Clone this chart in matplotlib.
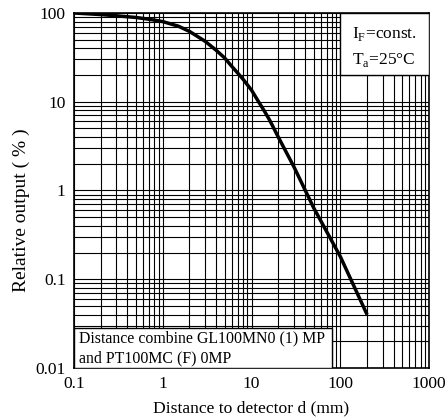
import matplotlib
matplotlib.use("Agg")
import matplotlib.pyplot as plt
from matplotlib.patches import Rectangle
from matplotlib.ticker import LogLocator, FixedLocator, FixedFormatter

plt.rcParams['font.family'] = ['Liberation Serif', 'DejaVu Serif']
plt.rcParams['mathtext.fontset'] = 'custom'
plt.rcParams['mathtext.rm'] = 'Liberation Serif'

# relative output vs distance (IF const, Ta 25C)
distance = [0.1, 0.2, 0.3, 0.5, 0.7, 1, 1.5, 2, 3, 4, 5, 6, 7, 8, 10,
            12, 14, 16, 20, 30, 50, 100, 200]
output = [100, 96, 93, 89, 85, 80, 71, 62, 48, 38, 31, 25, 21, 18, 13.5,
          10, 7.8, 6.2, 4.0, 1.85, 0.64, 0.18, 0.04]

x_ticks = [0.1, 1, 10, 100, 1000]
x_labels = ['0.1', '1', '10', '100', '1000']
y_ticks = [0.01, 0.1, 1, 10, 100]
y_labels = ['0.01', '0.1', '1', '10', '100']

fig = plt.figure(figsize=(4.47, 4.19), dpi=100)
ax = fig.add_axes([0.1655, 0.1217, 0.7945, 0.8473])

ax.set_xscale('log')
ax.set_yscale('log')
ax.set_xlim(0.1, 1000)
ax.set_ylim(0.01, 100)

ax.xaxis.set_major_locator(FixedLocator(x_ticks))
ax.xaxis.set_major_formatter(FixedFormatter(x_labels))
ax.yaxis.set_major_locator(FixedLocator(y_ticks))
ax.yaxis.set_major_formatter(FixedFormatter(y_labels))
ax.xaxis.set_minor_locator(LogLocator(base=10, subs=range(2, 10)))
ax.yaxis.set_minor_locator(LogLocator(base=10, subs=range(2, 10)))
ax.xaxis.set_minor_formatter(plt.NullFormatter())
ax.yaxis.set_minor_formatter(plt.NullFormatter())

ax.grid(which='both', color='black', linewidth=0.8, zorder=0)
ax.tick_params(which='both', length=0, labelsize=12.5, pad=6)
for s in ax.spines.values():
    s.set_linewidth(1.2)

ax.plot(distance, output, color='black', linewidth=2.5, zorder=3,
        solid_capstyle='butt', solid_joinstyle='round')

# white legend boxes over the grid
ax.add_patch(Rectangle((100, 20), 900, 80, facecolor='white',
                       edgecolor='black', linewidth=1.0, zorder=4))
ax.text(135, 58, r'I$_\mathrm{F}$=const.', fontsize=12.5, zorder=5,
        va='center', ha='left')
ax.text(135, 29.5, r'T$_\mathrm{a}$=25°C', fontsize=12.5, zorder=5,
        va='center', ha='left')

ax.add_patch(Rectangle((0.1, 0.01), 81 - 0.1, 0.0283 - 0.01, facecolor='white',
                       edgecolor='black', linewidth=1.0, zorder=4))
ax.text(0.113, 0.0218, 'Distance combine GL100MN0 (1) MP', fontsize=11.4,
        zorder=5, va='center', ha='left')
ax.text(0.113, 0.013, 'and PT100MC (F) 0MP', fontsize=11.4,
        zorder=5, va='center', ha='left')

ax.set_xlabel('Distance to detector d (mm)', fontsize=12.6, labelpad=6)
ax.set_ylabel('Relative output ( % )', fontsize=14)
ax.yaxis.set_label_coords(-0.125, 0.445)

fig.savefig('out.png', dpi=100)
